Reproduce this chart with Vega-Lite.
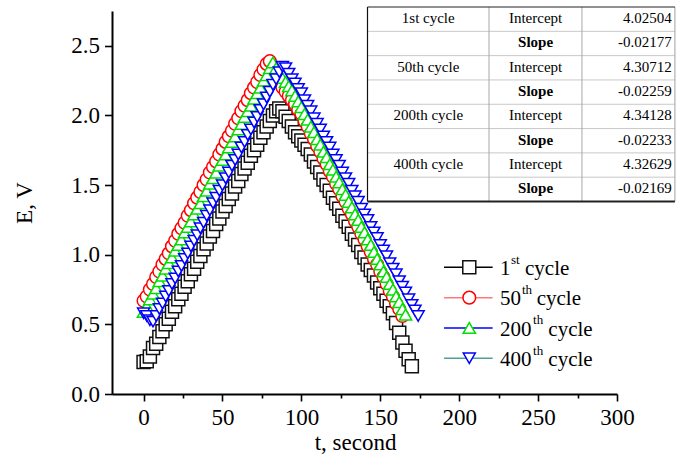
{
  "$schema": "https://vega.github.io/schema/vega-lite/v6.json",
  "width": 505,
  "height": 383,
  "autosize": {"type": "none"},
  "padding": {"left": 112, "top": 11, "right": 60, "bottom": 64},
  "background": "white",
  "config": {
    "view": {"stroke": null},
    "font": "Liberation Serif, Times New Roman, serif",
    "axis": {
      "labelFont": "Liberation Serif, Times New Roman, serif",
      "titleFont": "Liberation Serif, Times New Roman, serif",
      "labelFontSize": 23,
      "titleFontSize": 23,
      "titleFontWeight": "normal",
      "labelColor": "#000000",
      "titleColor": "#000000",
      "domainColor": "#000000",
      "tickColor": "#000000",
      "domainWidth": 2,
      "tickWidth": 1.6,
      "grid": false,
      "labelFlush": false,
      "labelOverlap": false
    },
    "text": {"font": "Liberation Serif, Times New Roman, serif", "color": "#000000"}
  },
  "datasets": {
    "curves": [
      {"cycle": "1st", "t": 0, "E": 0.23}, {"cycle": "1st", "t": 2, "E": 0.235}, {"cycle": "1st", "t": 4, "E": 0.27}, {"cycle": "1st", "t": 6, "E": 0.33},
      {"cycle": "1st", "t": 8, "E": 0.36}, {"cycle": "1st", "t": 10, "E": 0.41}, {"cycle": "1st", "t": 12, "E": 0.45}, {"cycle": "1st", "t": 14, "E": 0.50},
      {"cycle": "1st", "t": 16, "E": 0.54}, {"cycle": "1st", "t": 18, "E": 0.59}, {"cycle": "1st", "t": 20, "E": 0.63}, {"cycle": "1st", "t": 22, "E": 0.68},
      {"cycle": "1st", "t": 24, "E": 0.72}, {"cycle": "1st", "t": 26, "E": 0.77}, {"cycle": "1st", "t": 28, "E": 0.81}, {"cycle": "1st", "t": 30, "E": 0.86},
      {"cycle": "1st", "t": 32, "E": 0.90}, {"cycle": "1st", "t": 34, "E": 0.95}, {"cycle": "1st", "t": 36, "E": 0.99}, {"cycle": "1st", "t": 38, "E": 1.04},
      {"cycle": "1st", "t": 40, "E": 1.08}, {"cycle": "1st", "t": 42, "E": 1.13}, {"cycle": "1st", "t": 44, "E": 1.17}, {"cycle": "1st", "t": 46, "E": 1.22},
      {"cycle": "1st", "t": 48, "E": 1.26}, {"cycle": "1st", "t": 50, "E": 1.31}, {"cycle": "1st", "t": 52, "E": 1.35}, {"cycle": "1st", "t": 54, "E": 1.40},
      {"cycle": "1st", "t": 56, "E": 1.44}, {"cycle": "1st", "t": 58, "E": 1.49}, {"cycle": "1st", "t": 60, "E": 1.53}, {"cycle": "1st", "t": 62, "E": 1.58},
      {"cycle": "1st", "t": 64, "E": 1.62}, {"cycle": "1st", "t": 66, "E": 1.66}, {"cycle": "1st", "t": 68, "E": 1.71}, {"cycle": "1st", "t": 70, "E": 1.75},
      {"cycle": "1st", "t": 72, "E": 1.79}, {"cycle": "1st", "t": 74, "E": 1.84}, {"cycle": "1st", "t": 76, "E": 1.88}, {"cycle": "1st", "t": 78, "E": 1.92},
      {"cycle": "1st", "t": 80, "E": 1.96}, {"cycle": "1st", "t": 82, "E": 2.00}, {"cycle": "1st", "t": 84, "E": 2.03}, {"cycle": "1st", "t": 86, "E": 2.05},
      {"cycle": "1st", "t": 88, "E": 2.03}, {"cycle": "1st", "t": 90, "E": 1.99}, {"cycle": "1st", "t": 92, "E": 1.96}, {"cycle": "1st", "t": 94, "E": 1.92},
      {"cycle": "1st", "t": 96, "E": 1.88}, {"cycle": "1st", "t": 98, "E": 1.85}, {"cycle": "1st", "t": 100, "E": 1.82}, {"cycle": "1st", "t": 102, "E": 1.79},
      {"cycle": "1st", "t": 104, "E": 1.76}, {"cycle": "1st", "t": 106, "E": 1.72}, {"cycle": "1st", "t": 108, "E": 1.67}, {"cycle": "1st", "t": 110, "E": 1.63},
      {"cycle": "1st", "t": 112, "E": 1.59}, {"cycle": "1st", "t": 114, "E": 1.54}, {"cycle": "1st", "t": 116, "E": 1.50}, {"cycle": "1st", "t": 118, "E": 1.46},
      {"cycle": "1st", "t": 120, "E": 1.41}, {"cycle": "1st", "t": 122, "E": 1.37}, {"cycle": "1st", "t": 124, "E": 1.33}, {"cycle": "1st", "t": 126, "E": 1.28},
      {"cycle": "1st", "t": 128, "E": 1.24}, {"cycle": "1st", "t": 130, "E": 1.20}, {"cycle": "1st", "t": 132, "E": 1.15}, {"cycle": "1st", "t": 134, "E": 1.11},
      {"cycle": "1st", "t": 136, "E": 1.07}, {"cycle": "1st", "t": 138, "E": 1.02}, {"cycle": "1st", "t": 140, "E": 0.98}, {"cycle": "1st", "t": 142, "E": 0.93},
      {"cycle": "1st", "t": 144, "E": 0.89}, {"cycle": "1st", "t": 146, "E": 0.85}, {"cycle": "1st", "t": 148, "E": 0.80}, {"cycle": "1st", "t": 150, "E": 0.76},
      {"cycle": "1st", "t": 152, "E": 0.72}, {"cycle": "1st", "t": 154, "E": 0.67}, {"cycle": "1st", "t": 156, "E": 0.63}, {"cycle": "1st", "t": 158, "E": 0.58},
      {"cycle": "1st", "t": 160, "E": 0.51}, {"cycle": "1st", "t": 162, "E": 0.44}, {"cycle": "1st", "t": 164, "E": 0.37}, {"cycle": "1st", "t": 166, "E": 0.31},
      {"cycle": "1st", "t": 168, "E": 0.25}, {"cycle": "1st", "t": 170, "E": 0.20},

      {"cycle": "50th", "t": 0, "E": 0.67}, {"cycle": "50th", "t": 2, "E": 0.70}, {"cycle": "50th", "t": 4, "E": 0.75}, {"cycle": "50th", "t": 6, "E": 0.79},
      {"cycle": "50th", "t": 8, "E": 0.84}, {"cycle": "50th", "t": 10, "E": 0.88}, {"cycle": "50th", "t": 12, "E": 0.93}, {"cycle": "50th", "t": 14, "E": 0.97},
      {"cycle": "50th", "t": 16, "E": 1.01}, {"cycle": "50th", "t": 18, "E": 1.06}, {"cycle": "50th", "t": 20, "E": 1.10}, {"cycle": "50th", "t": 22, "E": 1.15},
      {"cycle": "50th", "t": 24, "E": 1.19}, {"cycle": "50th", "t": 26, "E": 1.23}, {"cycle": "50th", "t": 28, "E": 1.28}, {"cycle": "50th", "t": 30, "E": 1.32},
      {"cycle": "50th", "t": 32, "E": 1.37}, {"cycle": "50th", "t": 34, "E": 1.41}, {"cycle": "50th", "t": 36, "E": 1.45}, {"cycle": "50th", "t": 38, "E": 1.50},
      {"cycle": "50th", "t": 40, "E": 1.54}, {"cycle": "50th", "t": 42, "E": 1.59}, {"cycle": "50th", "t": 44, "E": 1.63}, {"cycle": "50th", "t": 46, "E": 1.67},
      {"cycle": "50th", "t": 48, "E": 1.72}, {"cycle": "50th", "t": 50, "E": 1.76}, {"cycle": "50th", "t": 52, "E": 1.81}, {"cycle": "50th", "t": 54, "E": 1.85},
      {"cycle": "50th", "t": 56, "E": 1.89}, {"cycle": "50th", "t": 58, "E": 1.94}, {"cycle": "50th", "t": 60, "E": 1.98}, {"cycle": "50th", "t": 62, "E": 2.03},
      {"cycle": "50th", "t": 64, "E": 2.07}, {"cycle": "50th", "t": 66, "E": 2.11}, {"cycle": "50th", "t": 68, "E": 2.16}, {"cycle": "50th", "t": 70, "E": 2.20},
      {"cycle": "50th", "t": 72, "E": 2.24}, {"cycle": "50th", "t": 74, "E": 2.29}, {"cycle": "50th", "t": 76, "E": 2.33}, {"cycle": "50th", "t": 78, "E": 2.37},
      {"cycle": "50th", "t": 80, "E": 2.39}, {"cycle": "50th", "t": 82, "E": 2.33}, {"cycle": "50th", "t": 84, "E": 2.28}, {"cycle": "50th", "t": 86, "E": 2.24},
      {"cycle": "50th", "t": 88, "E": 2.20}, {"cycle": "50th", "t": 90, "E": 2.17}, {"cycle": "50th", "t": 92, "E": 2.14}, {"cycle": "50th", "t": 94, "E": 2.11},
      {"cycle": "50th", "t": 96, "E": 2.08}, {"cycle": "50th", "t": 98, "E": 2.04}, {"cycle": "50th", "t": 100, "E": 2.01}, {"cycle": "50th", "t": 102, "E": 1.96},
      {"cycle": "50th", "t": 104, "E": 1.92}, {"cycle": "50th", "t": 106, "E": 1.87}, {"cycle": "50th", "t": 108, "E": 1.83}, {"cycle": "50th", "t": 110, "E": 1.78},
      {"cycle": "50th", "t": 112, "E": 1.74}, {"cycle": "50th", "t": 114, "E": 1.69}, {"cycle": "50th", "t": 116, "E": 1.65}, {"cycle": "50th", "t": 118, "E": 1.60},
      {"cycle": "50th", "t": 120, "E": 1.56}, {"cycle": "50th", "t": 122, "E": 1.51}, {"cycle": "50th", "t": 124, "E": 1.47}, {"cycle": "50th", "t": 126, "E": 1.42},
      {"cycle": "50th", "t": 128, "E": 1.38}, {"cycle": "50th", "t": 130, "E": 1.33}, {"cycle": "50th", "t": 132, "E": 1.29}, {"cycle": "50th", "t": 134, "E": 1.24},
      {"cycle": "50th", "t": 136, "E": 1.20}, {"cycle": "50th", "t": 138, "E": 1.15}, {"cycle": "50th", "t": 140, "E": 1.11}, {"cycle": "50th", "t": 142, "E": 1.06},
      {"cycle": "50th", "t": 144, "E": 1.02}, {"cycle": "50th", "t": 146, "E": 0.97}, {"cycle": "50th", "t": 148, "E": 0.93}, {"cycle": "50th", "t": 150, "E": 0.88},
      {"cycle": "50th", "t": 152, "E": 0.84}, {"cycle": "50th", "t": 154, "E": 0.79}, {"cycle": "50th", "t": 156, "E": 0.74}, {"cycle": "50th", "t": 158, "E": 0.70},
      {"cycle": "50th", "t": 160, "E": 0.65}, {"cycle": "50th", "t": 162, "E": 0.61}, {"cycle": "50th", "t": 164, "E": 0.56},

      {"cycle": "200th", "t": 0, "E": 0.59}, {"cycle": "200th", "t": 2, "E": 0.63}, {"cycle": "200th", "t": 4, "E": 0.68}, {"cycle": "200th", "t": 6, "E": 0.72},
      {"cycle": "200th", "t": 8, "E": 0.76}, {"cycle": "200th", "t": 10, "E": 0.81}, {"cycle": "200th", "t": 12, "E": 0.85}, {"cycle": "200th", "t": 14, "E": 0.90},
      {"cycle": "200th", "t": 16, "E": 0.94}, {"cycle": "200th", "t": 18, "E": 0.98}, {"cycle": "200th", "t": 20, "E": 1.03}, {"cycle": "200th", "t": 22, "E": 1.07},
      {"cycle": "200th", "t": 24, "E": 1.11}, {"cycle": "200th", "t": 26, "E": 1.16}, {"cycle": "200th", "t": 28, "E": 1.20}, {"cycle": "200th", "t": 30, "E": 1.24},
      {"cycle": "200th", "t": 32, "E": 1.29}, {"cycle": "200th", "t": 34, "E": 1.33}, {"cycle": "200th", "t": 36, "E": 1.37}, {"cycle": "200th", "t": 38, "E": 1.42},
      {"cycle": "200th", "t": 40, "E": 1.46}, {"cycle": "200th", "t": 42, "E": 1.51}, {"cycle": "200th", "t": 44, "E": 1.55}, {"cycle": "200th", "t": 46, "E": 1.59},
      {"cycle": "200th", "t": 48, "E": 1.64}, {"cycle": "200th", "t": 50, "E": 1.68}, {"cycle": "200th", "t": 52, "E": 1.72}, {"cycle": "200th", "t": 54, "E": 1.77},
      {"cycle": "200th", "t": 56, "E": 1.81}, {"cycle": "200th", "t": 58, "E": 1.85}, {"cycle": "200th", "t": 60, "E": 1.90}, {"cycle": "200th", "t": 62, "E": 1.94},
      {"cycle": "200th", "t": 64, "E": 1.99}, {"cycle": "200th", "t": 66, "E": 2.03}, {"cycle": "200th", "t": 68, "E": 2.07}, {"cycle": "200th", "t": 70, "E": 2.12},
      {"cycle": "200th", "t": 72, "E": 2.16}, {"cycle": "200th", "t": 74, "E": 2.20}, {"cycle": "200th", "t": 76, "E": 2.25}, {"cycle": "200th", "t": 78, "E": 2.29},
      {"cycle": "200th", "t": 80, "E": 2.34}, {"cycle": "200th", "t": 82, "E": 2.38}, {"cycle": "200th", "t": 84, "E": 2.34}, {"cycle": "200th", "t": 86, "E": 2.30},
      {"cycle": "200th", "t": 88, "E": 2.27}, {"cycle": "200th", "t": 90, "E": 2.24}, {"cycle": "200th", "t": 92, "E": 2.21}, {"cycle": "200th", "t": 94, "E": 2.18},
      {"cycle": "200th", "t": 96, "E": 2.14}, {"cycle": "200th", "t": 98, "E": 2.10}, {"cycle": "200th", "t": 100, "E": 2.06}, {"cycle": "200th", "t": 102, "E": 2.01},
      {"cycle": "200th", "t": 104, "E": 1.97}, {"cycle": "200th", "t": 106, "E": 1.92}, {"cycle": "200th", "t": 108, "E": 1.88}, {"cycle": "200th", "t": 110, "E": 1.83},
      {"cycle": "200th", "t": 112, "E": 1.79}, {"cycle": "200th", "t": 114, "E": 1.74}, {"cycle": "200th", "t": 116, "E": 1.70}, {"cycle": "200th", "t": 118, "E": 1.65},
      {"cycle": "200th", "t": 120, "E": 1.61}, {"cycle": "200th", "t": 122, "E": 1.56}, {"cycle": "200th", "t": 124, "E": 1.52}, {"cycle": "200th", "t": 126, "E": 1.47},
      {"cycle": "200th", "t": 128, "E": 1.43}, {"cycle": "200th", "t": 130, "E": 1.38}, {"cycle": "200th", "t": 132, "E": 1.34}, {"cycle": "200th", "t": 134, "E": 1.29},
      {"cycle": "200th", "t": 136, "E": 1.25}, {"cycle": "200th", "t": 138, "E": 1.20}, {"cycle": "200th", "t": 140, "E": 1.16}, {"cycle": "200th", "t": 142, "E": 1.11},
      {"cycle": "200th", "t": 144, "E": 1.07}, {"cycle": "200th", "t": 146, "E": 1.02}, {"cycle": "200th", "t": 148, "E": 0.97}, {"cycle": "200th", "t": 150, "E": 0.93},
      {"cycle": "200th", "t": 152, "E": 0.88}, {"cycle": "200th", "t": 154, "E": 0.84}, {"cycle": "200th", "t": 156, "E": 0.79}, {"cycle": "200th", "t": 158, "E": 0.75},
      {"cycle": "200th", "t": 160, "E": 0.70}, {"cycle": "200th", "t": 162, "E": 0.66}, {"cycle": "200th", "t": 164, "E": 0.61}, {"cycle": "200th", "t": 166, "E": 0.57},

      {"cycle": "400th", "t": 0, "E": 0.58}, {"cycle": "400th", "t": 2, "E": 0.56}, {"cycle": "400th", "t": 4, "E": 0.53}, {"cycle": "400th", "t": 6, "E": 0.52},
      {"cycle": "400th", "t": 8, "E": 0.56}, {"cycle": "400th", "t": 10, "E": 0.61}, {"cycle": "400th", "t": 12, "E": 0.65}, {"cycle": "400th", "t": 14, "E": 0.70},
      {"cycle": "400th", "t": 16, "E": 0.74}, {"cycle": "400th", "t": 18, "E": 0.79}, {"cycle": "400th", "t": 20, "E": 0.83}, {"cycle": "400th", "t": 22, "E": 0.88},
      {"cycle": "400th", "t": 24, "E": 0.92}, {"cycle": "400th", "t": 26, "E": 0.97}, {"cycle": "400th", "t": 28, "E": 1.01}, {"cycle": "400th", "t": 30, "E": 1.06},
      {"cycle": "400th", "t": 32, "E": 1.10}, {"cycle": "400th", "t": 34, "E": 1.14}, {"cycle": "400th", "t": 36, "E": 1.19}, {"cycle": "400th", "t": 38, "E": 1.23},
      {"cycle": "400th", "t": 40, "E": 1.28}, {"cycle": "400th", "t": 42, "E": 1.32}, {"cycle": "400th", "t": 44, "E": 1.37}, {"cycle": "400th", "t": 46, "E": 1.41},
      {"cycle": "400th", "t": 48, "E": 1.46}, {"cycle": "400th", "t": 50, "E": 1.50}, {"cycle": "400th", "t": 52, "E": 1.55}, {"cycle": "400th", "t": 54, "E": 1.59},
      {"cycle": "400th", "t": 56, "E": 1.64}, {"cycle": "400th", "t": 58, "E": 1.68}, {"cycle": "400th", "t": 60, "E": 1.72}, {"cycle": "400th", "t": 62, "E": 1.77},
      {"cycle": "400th", "t": 64, "E": 1.81}, {"cycle": "400th", "t": 66, "E": 1.86}, {"cycle": "400th", "t": 68, "E": 1.90}, {"cycle": "400th", "t": 70, "E": 1.95},
      {"cycle": "400th", "t": 72, "E": 1.99}, {"cycle": "400th", "t": 74, "E": 2.04}, {"cycle": "400th", "t": 76, "E": 2.08}, {"cycle": "400th", "t": 78, "E": 2.13},
      {"cycle": "400th", "t": 80, "E": 2.17}, {"cycle": "400th", "t": 82, "E": 2.22}, {"cycle": "400th", "t": 84, "E": 2.26}, {"cycle": "400th", "t": 86, "E": 2.31},
      {"cycle": "400th", "t": 88, "E": 2.35}, {"cycle": "400th", "t": 90, "E": 2.34}, {"cycle": "400th", "t": 92, "E": 2.30}, {"cycle": "400th", "t": 94, "E": 2.26},
      {"cycle": "400th", "t": 96, "E": 2.23}, {"cycle": "400th", "t": 98, "E": 2.19}, {"cycle": "400th", "t": 100, "E": 2.16}, {"cycle": "400th", "t": 102, "E": 2.11},
      {"cycle": "400th", "t": 104, "E": 2.07}, {"cycle": "400th", "t": 106, "E": 2.03}, {"cycle": "400th", "t": 108, "E": 1.98}, {"cycle": "400th", "t": 110, "E": 1.94},
      {"cycle": "400th", "t": 112, "E": 1.90}, {"cycle": "400th", "t": 114, "E": 1.85}, {"cycle": "400th", "t": 116, "E": 1.81}, {"cycle": "400th", "t": 118, "E": 1.77},
      {"cycle": "400th", "t": 120, "E": 1.72}, {"cycle": "400th", "t": 122, "E": 1.68}, {"cycle": "400th", "t": 124, "E": 1.64}, {"cycle": "400th", "t": 126, "E": 1.59},
      {"cycle": "400th", "t": 128, "E": 1.55}, {"cycle": "400th", "t": 130, "E": 1.51}, {"cycle": "400th", "t": 132, "E": 1.46}, {"cycle": "400th", "t": 134, "E": 1.42},
      {"cycle": "400th", "t": 136, "E": 1.38}, {"cycle": "400th", "t": 138, "E": 1.33}, {"cycle": "400th", "t": 140, "E": 1.29}, {"cycle": "400th", "t": 142, "E": 1.25},
      {"cycle": "400th", "t": 144, "E": 1.20}, {"cycle": "400th", "t": 146, "E": 1.16}, {"cycle": "400th", "t": 148, "E": 1.12}, {"cycle": "400th", "t": 150, "E": 1.07},
      {"cycle": "400th", "t": 152, "E": 1.03}, {"cycle": "400th", "t": 154, "E": 0.99}, {"cycle": "400th", "t": 156, "E": 0.94}, {"cycle": "400th", "t": 158, "E": 0.90},
      {"cycle": "400th", "t": 160, "E": 0.86}, {"cycle": "400th", "t": 162, "E": 0.81}, {"cycle": "400th", "t": 164, "E": 0.77}, {"cycle": "400th", "t": 166, "E": 0.73},
      {"cycle": "400th", "t": 168, "E": 0.68}, {"cycle": "400th", "t": 170, "E": 0.64}, {"cycle": "400th", "t": 172, "E": 0.60}, {"cycle": "400th", "t": 174, "E": 0.56}
    ],
    "legendItems": [
      {"cycle": "1st", "num": "1", "sup": "st"},
      {"cycle": "50th", "num": "50", "sup": "th"},
      {"cycle": "200th", "num": "200", "sup": "th"},
      {"cycle": "400th", "num": "400", "sup": "th"}
    ],
    "fitTable": [
      {"row": 0, "cycle": "1st cycle", "param": "Intercept", "value": "4.02504"},
      {"row": 1, "cycle": "", "param": "Slope", "value": "-0.02177"},
      {"row": 2, "cycle": "50th cycle", "param": "Intercept", "value": "4.30712"},
      {"row": 3, "cycle": "", "param": "Slope", "value": "-0.02259"},
      {"row": 4, "cycle": "200th cycle", "param": "Intercept", "value": "4.34128"},
      {"row": 5, "cycle": "", "param": "Slope", "value": "-0.02233"},
      {"row": 6, "cycle": "400th cycle", "param": "Intercept", "value": "4.32629"},
      {"row": 7, "cycle": "", "param": "Slope", "value": "-0.02169"}
    ]
  },
  "layer": [
    {
      "data": {"name": "curves"},
      "layer": [
        {
          "mark": {"type": "line", "strokeWidth": 1.5},
          "encoding": {
            "x": {
              "field": "t", "type": "quantitative", "title": "t, second",
              "scale": {"domain": [-20, 300], "nice": false, "zero": false},
              "axis": {
                "title": "t, second",
                "values": [0, 25, 50, 75, 100, 125, 150, 175, 200, 225, 250, 275, 300],
                "labelExpr": "datum.value % 50 === 0 ? datum.label : ''",
                "tickSize": {"condition": {"test": "datum.value % 50 === 0", "value": 7}, "value": 4},
                "labelPadding": 5,
                "titlePadding": 2,
                "titleX": 243
              }
            },
            "y": {
              "field": "E", "type": "quantitative", "title": "E, V",
              "scale": {"domain": [0, 2.75], "nice": false, "zero": false},
              "axis": {
                "title": "E, V",
                "values": [0, 0.25, 0.5, 0.75, 1, 1.25, 1.5, 1.75, 2, 2.25, 2.5, 2.75],
                "format": ".1f",
                "labelExpr": "round(datum.value * 4) % 2 === 0 ? datum.label : ''",
                "tickSize": {"condition": {"test": "round(datum.value * 4) % 2 === 0", "value": 7.5}, "value": 4},
                "labelPadding": 5,
                "titlePadding": 34
              }
            },
            "color": {
              "field": "cycle", "type": "nominal",
              "scale": {"domain": ["1st", "50th", "200th", "400th"], "range": ["#000000", "#ff7a7a", "#0000ff", "#4f9f9a"]},
              "legend": null
            }
          }
        },
        {
          "mark": {"type": "point", "filled": true, "fill": "#ffffff", "strokeWidth": 1.5, "opacity": 1},
          "encoding": {
            "x": {"field": "t", "type": "quantitative", "title": "t, second"},
            "y": {"field": "E", "type": "quantitative", "title": "E, V"},
            "shape": {
              "field": "cycle", "type": "nominal",
              "scale": {"domain": ["1st", "50th", "200th", "400th"], "range": ["square", "circle", "triangle-up", "triangle-down"]},
              "legend": null
            },
            "stroke": {
              "field": "cycle", "type": "nominal",
              "scale": {"domain": ["1st", "50th", "200th", "400th"], "range": ["#111111", "#ff0000", "#00e000", "#0000ff"]},
              "legend": null
            },
            "size": {
              "field": "cycle", "type": "nominal",
              "scale": {"domain": ["1st", "50th", "200th", "400th"], "range": [169, 144, 216, 216]},
              "legend": null
            }
          }
        }
      ]
    },
    {
      "data": {"name": "legendItems"},
      "encoding": {
        "y": {
          "field": "cycle", "type": "nominal",
          "scale": {"type": "point", "domain": ["1st", "50th", "200th", "400th"], "range": [256.3, 347.3], "padding": 0},
          "axis": null
        }
      },
      "layer": [
        {
          "mark": {"type": "rule", "strokeWidth": 1.5},
          "encoding": {
            "x": {"datum": 190.4, "scale": {"domain": [-20, 300], "nice": false, "zero": false}, "axis": null},
            "x2": {"datum": 221.2},
            "color": {"field": "cycle", "type": "nominal", "legend": null}
          }
        },
        {
          "mark": {"type": "point", "filled": true, "fill": "#ffffff", "strokeWidth": 1.5, "opacity": 1},
          "encoding": {
            "x": {"datum": 206.4, "axis": null},
            "shape": {"field": "cycle", "type": "nominal", "legend": null},
            "stroke": {"field": "cycle", "type": "nominal", "legend": null},
            "size": {"field": "cycle", "type": "nominal", "legend": null}
          }
        },
        {
          "mark": {"type": "text", "align": "left", "baseline": "alphabetic", "dy": 7.7, "fontSize": 21},
          "encoding": {"x": {"datum": 225.9, "axis": null}, "text": {"field": "num"}}
        },
        {
          "transform": [{"filter": "datum.cycle === '1st'"}],
          "mark": {"type": "text", "align": "left", "baseline": "alphabetic", "dy": -3.8, "fontSize": 13},
          "encoding": {"x": {"datum": 232.8, "axis": null}, "text": {"field": "sup"}}
        },
        {
          "transform": [{"filter": "datum.cycle === '1st'"}],
          "mark": {"type": "text", "align": "left", "baseline": "alphabetic", "dy": 7.7, "fontSize": 21, "text": "cycle"},
          "encoding": {"x": {"datum": 241.7, "axis": null}}
        },
        {
          "transform": [{"filter": "datum.cycle === '50th'"}],
          "mark": {"type": "text", "align": "left", "baseline": "alphabetic", "dy": -3.8, "fontSize": 13},
          "encoding": {"x": {"datum": 239.8, "axis": null}, "text": {"field": "sup"}}
        },
        {
          "transform": [{"filter": "datum.cycle === '50th'"}],
          "mark": {"type": "text", "align": "left", "baseline": "alphabetic", "dy": 7.7, "fontSize": 21, "text": "cycle"},
          "encoding": {"x": {"datum": 249.1, "axis": null}}
        },
        {
          "transform": [{"filter": "datum.cycle === '200th' || datum.cycle === '400th'"}],
          "mark": {"type": "text", "align": "left", "baseline": "alphabetic", "dy": -3.8, "fontSize": 13},
          "encoding": {"x": {"datum": 246.8, "axis": null}, "text": {"field": "sup"}}
        },
        {
          "transform": [{"filter": "datum.cycle === '200th' || datum.cycle === '400th'"}],
          "mark": {"type": "text", "align": "left", "baseline": "alphabetic", "dy": 7.7, "fontSize": 21, "text": "cycle"},
          "encoding": {"x": {"datum": 256.5, "axis": null}}
        }
      ]
    },
    {
      "data": {"name": "fitTable"},
      "layer": [
        {
          "transform": [{"filter": "datum.row > 0"}],
          "mark": {"type": "rule", "color": "#c8c8c8", "strokeWidth": 1},
          "encoding": {
            "x": {"datum": 141.9, "scale": {"domain": [-20, 300], "nice": false, "zero": false}, "axis": null},
            "x2": {"datum": 336.7},
            "y": {"field": "row", "type": "quantitative", "scale": {"domain": [0, 8], "range": [-4, 190.5], "nice": false, "zero": false}, "axis": null}
          }
        },
        {
          "transform": [{"filter": "datum.row === 0"}],
          "mark": {"type": "rule", "color": "#a8a8a8", "strokeWidth": 1},
          "encoding": {"x": {"datum": 218.9, "axis": null}, "y": {"datum": 0, "axis": null}, "y2": {"datum": 8}}
        },
        {
          "transform": [{"filter": "datum.row === 0"}],
          "mark": {"type": "rule", "color": "#a8a8a8", "strokeWidth": 1},
          "encoding": {"x": {"datum": 277.8, "axis": null}, "y": {"datum": 0, "axis": null}, "y2": {"datum": 8}}
        },
        {
          "transform": [{"filter": "datum.row === 0"}],
          "mark": {"type": "rule", "color": "#a0a0a0", "strokeWidth": 1},
          "encoding": {"x": {"datum": 336.7, "axis": null}, "y": {"datum": 0, "axis": null}, "y2": {"datum": 8}}
        },
        {
          "transform": [{"filter": "datum.row === 0"}],
          "mark": {"type": "rule", "color": "#111111", "strokeWidth": 1.2},
          "encoding": {"x": {"datum": 141.9, "axis": null}, "y": {"datum": 0, "axis": null}, "y2": {"datum": 8}}
        },
        {
          "transform": [{"filter": "datum.row === 0"}],
          "mark": {"type": "rule", "color": "#222222", "strokeWidth": 1.2},
          "encoding": {"x": {"datum": 141.9, "axis": null}, "x2": {"datum": 336.7}, "y": {"datum": 0, "axis": null}}
        },
        {
          "transform": [{"filter": "datum.row === 0"}],
          "mark": {"type": "rule", "color": "#222222", "strokeWidth": 2},
          "encoding": {"x": {"datum": 141.9, "axis": null}, "x2": {"datum": 336.7}, "y": {"datum": 8, "axis": null}}
        },
        {
          "transform": [{"filter": "datum.cycle !== ''"}],
          "mark": {"type": "text", "align": "center", "baseline": "middle", "dy": 11, "fontSize": 15},
          "encoding": {"x": {"datum": 180.4, "axis": null}, "y": {"field": "row", "type": "quantitative", "axis": null}, "text": {"field": "cycle"}}
        },
        {
          "transform": [{"filter": "datum.param === 'Intercept'"}],
          "mark": {"type": "text", "align": "center", "baseline": "middle", "dy": 11, "fontSize": 15},
          "encoding": {"x": {"datum": 248.4, "axis": null}, "y": {"field": "row", "type": "quantitative", "axis": null}, "text": {"field": "param"}}
        },
        {
          "transform": [{"filter": "datum.param === 'Slope'"}],
          "mark": {"type": "text", "align": "center", "baseline": "middle", "dy": 11, "fontSize": 15, "fontWeight": "bold"},
          "encoding": {"x": {"datum": 248.4, "axis": null}, "y": {"field": "row", "type": "quantitative", "axis": null}, "text": {"field": "param"}}
        },
        {
          "mark": {"type": "text", "align": "right", "baseline": "middle", "dy": 11, "fontSize": 15},
          "encoding": {"x": {"datum": 334.7, "axis": null}, "y": {"field": "row", "type": "quantitative", "axis": null}, "text": {"field": "value"}}
        }
      ]
    }
  ],
  "resolve": {"scale": {"x": "independent", "y": "independent"}}
}
